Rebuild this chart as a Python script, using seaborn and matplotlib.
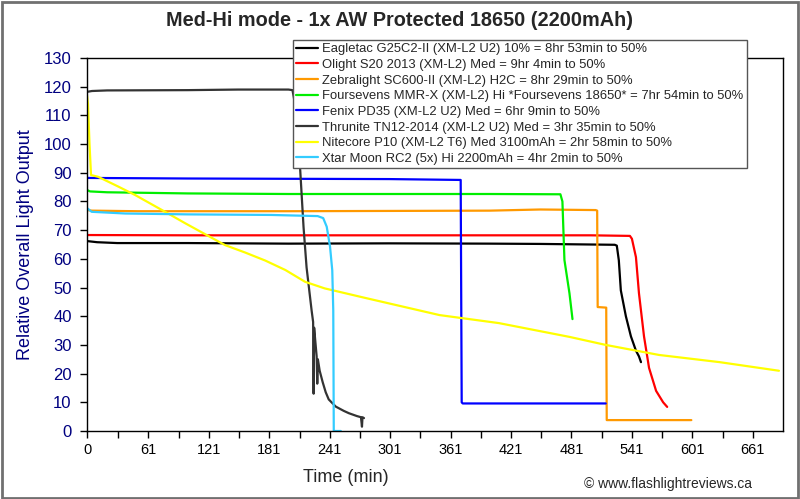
import numpy as np
import pandas as pd
import matplotlib
matplotlib.use("Agg")
import matplotlib.pyplot as plt
from matplotlib.lines import Line2D
from matplotlib.patches import Rectangle
import seaborn as sns

title = "Med-Hi mode - 1x AW Protected 18650 (2200mAh)"
x_label = "Time (min)"
y_label = "Relative Overall Light Output"
credit = "\u00a9 www.flashlightreviews.ca"

labels = [
    "Eagletac G25C2-II (XM-L2 U2) 10% = 8hr 53min to 50%",
    "Olight S20 2013 (XM-L2) Med = 9hr 4min to 50%",
    "Zebralight SC600-II (XM-L2) H2C = 8hr 29min to 50%",
    "Foursevens MMR-X (XM-L2) Hi *Foursevens 18650* = 7hr 54min to 50%",
    "Fenix PD35 (XM-L2 U2) Med = 6hr 9min to 50%",
    "Thrunite TN12-2014 (XM-L2 U2) Med = 3hr 35min to 50%",
    "Nitecore P10 (XM-L2 T6) Med 3100mAh = 2hr 58min to 50%",
    "Xtar Moon RC2 (5x) Hi 2200mAh = 4hr 2min to 50%",
]
colors = ["#000000", "#FF0000", "#FF9900", "#00EE00", "#0000FF", "#333333", "#FFFF00", "#33CCFF"]

eagletac_t = [0, 10, 30, 100, 200, 300, 400, 450, 500, 524, 526, 528, 530, 535, 540, 545, 548, 550]
eagletac_y = [66.2, 65.8, 65.5, 65.5, 65.3, 65.4, 65.3, 65.2, 65.0, 64.9, 64.6, 59.5, 49, 40, 33, 28, 26, 24]

olight_t = [0, 100, 300, 500, 539, 541, 545, 548, 553, 558, 565, 572, 576]
olight_y = [68.3, 68.2, 68.2, 68.2, 68.0, 67, 60.6, 48, 33, 22, 14, 10, 8.4]

zebra_t = [0, 5, 50, 200, 300, 400, 450, 505, 506.5, 507, 515.5, 516, 600]
zebra_y = [77, 76.8, 76.6, 76.6, 76.7, 76.8, 77.2, 77, 76.8, 43.2, 43, 3.8, 3.8]

foursevens_t = [0, 3, 20, 100, 200, 300, 400, 470, 472, 474, 479, 482]
foursevens_y = [84, 83.5, 83.2, 82.8, 82.6, 82.6, 82.6, 82.5, 80, 59.6, 48, 39]

fenix_t = [0, 100, 300, 371, 372, 373, 515]
fenix_y = [88.2, 88.0, 87.8, 87.5, 10, 9.6, 9.6]

thrunite_t = [0, 5, 20, 100, 150, 200, 204, 206, 208, 211.5, 215, 218, 223, 224.5, 225, 225.5,
              227, 228, 228.6, 229.2, 231, 234, 237, 240, 247, 255, 260, 268, 272, 273, 273.5, 275]
thrunite_y = [118.2, 118.5, 118.7, 118.8, 119.0, 119.0, 118.8, 115, 107, 92, 71, 57, 42, 38, 13, 36,
              30, 26, 16.5, 25, 21, 17, 13.5, 11, 8.5, 7, 6.2, 5.2, 4.8, 1.5, 4.8, 4.5]

nitecore_t = [0, 1, 2.5, 4, 11, 31, 48, 77.5, 97, 124, 137, 157, 177, 197, 216.5, 236, 276,
              350, 409, 479, 515, 568, 628, 687]
nitecore_y = [117, 114, 100, 89.2, 88.6, 85.2, 82.2, 76.4, 72.5, 67.3, 64.8, 62.2, 59.4, 56.1, 52, 49.7, 46.4,
              40.4, 37.6, 32.8, 30, 26.5, 24, 21]

xtar_t = [0, 4.6, 38, 100, 183, 229, 234.5, 238, 241.3, 243.5, 244.5, 245, 252]
xtar_y = [77.7, 76.4, 75.8, 75.5, 75.3, 74.9, 74.2, 71.2, 64.2, 56, 42, 0, 0]

x_ticks = [0, 61, 121, 181, 241, 301, 361, 421, 481, 541, 601, 661]
x_minor = [31, 91, 151, 211, 271, 331, 391, 451, 511, 571, 631]
y_ticks = list(range(0, 131, 10))

series_t = [eagletac_t, olight_t, zebra_t, foursevens_t, fenix_t, thrunite_t, nitecore_t, xtar_t]
series_y = [eagletac_y, olight_y, zebra_y, foursevens_y, fenix_y, thrunite_y, nitecore_y, xtar_y]

frames = []
for lab, t, y in zip(labels, series_t, series_y):
    frames.append(pd.DataFrame({"t": t, "y": y, "series": lab}))
df = pd.concat(frames, ignore_index=True)

sns.set_style("white")
plt.rcParams["font.family"] = ["Liberation Sans", "DejaVu Sans"]

fig = plt.figure(figsize=(8.0, 4.99), dpi=100)
ax = fig.add_axes([87 / 800, 68 / 499, 696 / 800, 373 / 499])

palette = dict(zip(labels, colors))
sns.lineplot(data=df, x="t", y="y", hue="series", hue_order=labels, palette=palette,
             sort=False, estimator=None, linewidth=1.6, legend=False, ax=ax)

ax.set_xlim(0, 691)
ax.set_ylim(0, 130)
ax.set_xticks(x_ticks)
ax.set_xticklabels([str(v) for v in x_ticks])
ax.set_xticks(x_minor, minor=True)
ax.set_yticks(y_ticks)
ax.set_xlabel("")
ax.set_ylabel(y_label, color="#000080", fontsize=13, labelpad=7)
ax.tick_params(axis="both", which="both", direction="out", length=5, width=1, color="black",
               bottom=True, left=True)
ax.tick_params(axis="y", labelsize=12, labelcolor="#000080", pad=6)
ax.tick_params(axis="x", labelsize=10.5, labelcolor="black", pad=4)
for sp in ax.spines.values():
    sp.set_color("black")
    sp.set_linewidth(1)

handles = [Line2D([0], [0], color=c, lw=1.6) for c in colors]
leg = fig.legend(handles, labels, loc="upper left", bbox_to_anchor=(293 / 800, 1 - 40 / 499),
                 bbox_transform=fig.transFigure, borderaxespad=0, fontsize=9.4,
                 handlelength=1.7, handletextpad=0.3, labelspacing=0.27, borderpad=0.25,
                 fancybox=False, framealpha=1, edgecolor="#555555", frameon=True)
leg.get_frame().set_linewidth(1)
leg.set_zorder(10)

fig.text(0.5, 1 - 21 / 499, title, ha="center", va="center", fontsize=14.3, fontweight="bold")
fig.text(346 / 800, 1 - 478 / 499, x_label, ha="center", va="center", fontsize=13)
fig.text(752 / 800, 1 - 484 / 499, credit, ha="right", va="center", fontsize=10)

fig.patches.append(Rectangle((0.002, 0.003), 0.995, 0.993, transform=fig.transFigure,
                             fill=False, edgecolor="#707070", linewidth=2))

fig.savefig("out.png", dpi=100)
